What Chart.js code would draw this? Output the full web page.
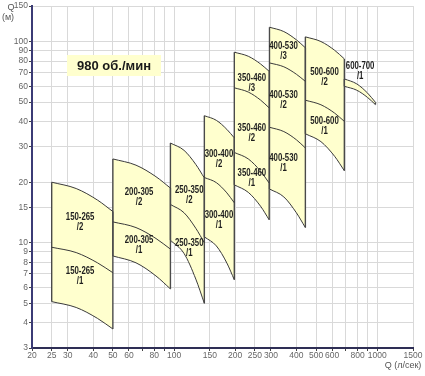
<!DOCTYPE html>
<html>
<head>
<meta charset="utf-8">
<script src="https://cdn.jsdelivr.net/npm/chart.js@4/dist/chart.umd.min.js"></script>
<style>
html,body{margin:0;padding:0;background:#fff;}
#wrap{width:425px;height:376px;position:relative;}
</style>
</head>
<body>
<div id="wrap"><canvas id="c" width="425" height="376"></canvas></div>
<script>
// ---- axis ticks ----
const qTicks = [20,25,30,40,50,60,70,80,90,100,150,200,250,300,400,500,600,700,800,900,1000,1500];
const qTickLabels = [20,25,30,40,50,60,80,100,150,200,250,300,400,500,600,800,1000,1500];
const hTicks = [3,4,5,6,7,8,9,10,15,20,30,40,50,60,70,80,90,100,150];

// ---- pump families: flow Q (л/сек) and head H (м) ----
const q150_265 = [25, 33, 42, 50];
const h150_265_top = [20, 18.6, 16.3, 14.3];
const h150_265_mid = [9.5, 8.94, 7.95, 7.1];
const h150_265_bot = [5.1, 4.77, 4.21, 3.73];

const q200_305 = [50, 65, 81.5, 96];
const h200_305_top = [26.1, 24.3, 21.3, 18.7];
const h200_305_mid = [12.7, 11.9, 10.5, 9.3];
const h200_305_bot = [8.6, 7.95, 6.84, 5.9];

const q250_350 = [96, 112, 128, 141];
const h250_350_top = [31.3, 28.8, 24.5, 21.0];
const h250_350_mid = [15.5, 14.1, 11.8, 10.0];
const h250_350_bot = [10.3, 8.85, 6.6, 5.0];

const q300_400 = [141, 161.5, 182, 198];
const h300_400_top = [42.8, 40.6, 36.6, 33.2];
const h300_400_mid = [21.1, 19.9, 17.7, 15.8];
const h300_400_bot = [10.7, 9.65, 7.93, 6.55];

const q350_460 = [198, 232, 266.5, 294];
const h350_460_top = [88.5, 84.5, 77.4, 71.1];
const h350_460_c23 = [58.9, 56.1, 51.2, 46.8];
const h350_460_c12 = [28.1, 26.1, 22.7, 19.8];
const h350_460_bot = [19.4, 17.8, 15.2, 13.0];

const q400_530 = [295, 347, 400, 443];
const h400_530_top = [117.8, 112.1, 102, 93.1];
const h400_530_c23 = [78.3, 74.9, 68.8, 63.4];
const h400_530_c12 = [37.5, 35.7, 32.5, 29.6];
const h400_530_bot = [18.5, 16.9, 14.1, 11.9];

const q500_600 = [443, 528.5, 617, 689];
const h500_600_top = [105.5, 100, 90.5, 82.0];
const h500_600_mid = [51.1, 48.5, 44.1, 40.1];
const h500_600_bot = [34.8, 31.8, 26.9, 22.8];

const q600_700 = [689, 793, 897, 980];
const h600_700_top = [65.2, 61.6, 55.4, 49.9];
const h600_700_bot = [59.9, 57.3, 52.7, 48.6];

// ---- region labels (text + anchor in data coords) ----
const labelNames = ['150-265','150-265','200-305','200-305','250-350','250-350','300-400','300-400',
  '350-460','350-460','350-460','400-530','400-530','400-530','500-600','500-600','600-700'];
const labelSubs = ['/2','/1','/2','/1','/2','/1','/2','/1','/3','/2','/1','/3','/2','/1','/2','/1','/1'];
const labelQ = [34.5,34.5,67.3,67.3,118.8,118.8,166.4,166.4,241.6,241.6,241.6,346,346,346,550,550,824];
const labelH = [12.7,6.85,16.9,9.77,17.2,9.44,25.9,12.9,62.3,35.1,21.0,89.1,50.8,24.8,66.4,37.9,71.1];

const speedLabel = '980 об./мин';

// ---- build datasets ----
const families = [
  [q150_265, [h150_265_bot, h150_265_mid, h150_265_top]],
  [q200_305, [h200_305_bot, h200_305_mid, h200_305_top]],
  [q250_350, [h250_350_bot, h250_350_mid, h250_350_top]],
  [q300_400, [h300_400_bot, h300_400_mid, h300_400_top]],
  [q350_460, [h350_460_bot, h350_460_c12, h350_460_c23, h350_460_top]],
  [q400_530, [h400_530_bot, h400_530_c12, h400_530_c23, h400_530_top]],
  [q500_600, [h500_600_bot, h500_600_mid, h500_600_top]],
  [q600_700, [h600_700_bot, h600_700_top]]
];
const FILL = '#FFFFCE';
const LINE = '#3a3a3a';
const datasets = [];
families.forEach(([q, curves]) => {
  const bIdx = datasets.length;
  curves.forEach((h, i) => {
    const isTop = i === curves.length - 1;
    datasets.push({
      data: q.map((x, k) => ({x: x, y: h[k]})),
      borderColor: LINE, borderWidth: 1, pointRadius: 0,
      cubicInterpolationMode: 'monotone',
      fill: isTop ? {target: bIdx} : false,
      backgroundColor: FILL
    });
  });
  const bot = curves[0], top = curves[curves.length - 1], n = q.length - 1;
  datasets.push({data: [{x: q[0], y: bot[0]}, {x: q[0], y: top[0]}],
    borderColor: '#4a4a4a', borderWidth: 1.4, pointRadius: 0, fill: false});
  datasets.push({data: [{x: q[n], y: bot[n]}, {x: q[n], y: top[n]}],
    borderColor: '#4a4a4a', borderWidth: 1.4, pointRadius: 0, fill: false});
});

const textPlugin = {
  id: 'texts',
  afterDatasetsDraw(chart) {
    const ctx = chart.ctx, xs = chart.scales.x, ys = chart.scales.y;
    ctx.save();
    ctx.textAlign = 'center';
    ctx.textBaseline = 'middle';
    ctx.fillStyle = '#1e1e1e';
    ctx.font = 'bold 10px "Liberation Sans", Arial, sans-serif';
    labelNames.forEach((t, i) => {
      const px = xs.getPixelForValue(labelQ[i]);
      const py = ys.getPixelForValue(labelH[i]);
      ctx.save();
      ctx.translate(px, py);
      ctx.scale(0.78, 1);
      ctx.fillText(t, 0, -5);
      ctx.fillText(labelSubs[i], 0, 5);
      ctx.restore();
    });
    // speed box
    ctx.fillStyle = FILL;
    ctx.fillRect(67, 55, 94, 21);
    ctx.fillStyle = '#1a1a1a';
    ctx.font = 'bold 13px "Liberation Sans", Arial, sans-serif';
    ctx.fillText(speedLabel, 114, 66);
    // axis titles
    ctx.fillStyle = '#555';
    ctx.font = '9px "Liberation Sans", Arial, sans-serif';
    ctx.fillText('Q', 11, 8);
    ctx.fillText('(м)', 8, 18);
    ctx.fillText('Q (л/сек)', 403, 366);
    ctx.restore();
  }
};

new Chart(document.getElementById('c'), {
  type: 'line',
  data: {datasets},
  plugins: [textPlugin],
  options: {
    responsive: false,
    animation: false,
    layout: {padding: {top: 6, right: 12, left: 0, bottom: 0}},
    plugins: {
      legend: {display: false},
      tooltip: {enabled: false},
      filler: {drawTime: 'beforeDatasetsDraw'}
    },
    scales: {
      x: {
        type: 'logarithmic', min: 20, max: 1500,
        afterBuildTicks: s => { s.ticks = qTicks.map(v => ({value: v})); },
        afterFit: s => { s.height = 28; },
        ticks: {
          autoSkip: false, maxRotation: 0, padding: 0,
          color: '#666', font: {size: 8.5, family: '"Liberation Sans", Arial, sans-serif'},
          callback: v => qTickLabels.includes(v) ? String(v) : ''
        },
        grid: {color: '#d9d9d9', lineWidth: 1, tickLength: 3, tickColor: '#444'},
        border: {color: '#2e2e55', width: 2}
      },
      y: {
        type: 'logarithmic', min: 3, max: 150,
        afterBuildTicks: s => { s.ticks = hTicks.map(v => ({value: v})); },
        afterFit: s => { s.width = 32; },
        ticks: {
          autoSkip: false, padding: 1,
          color: '#666', font: {size: 8.5, family: '"Liberation Sans", Arial, sans-serif'},
          callback: v => String(v)
        },
        grid: {color: '#d9d9d9', lineWidth: 1, tickLength: 3, tickColor: '#444'},
        border: {color: '#3b3b75', width: 2}
      }
    }
  }
});
</script>
</body>
</html>
